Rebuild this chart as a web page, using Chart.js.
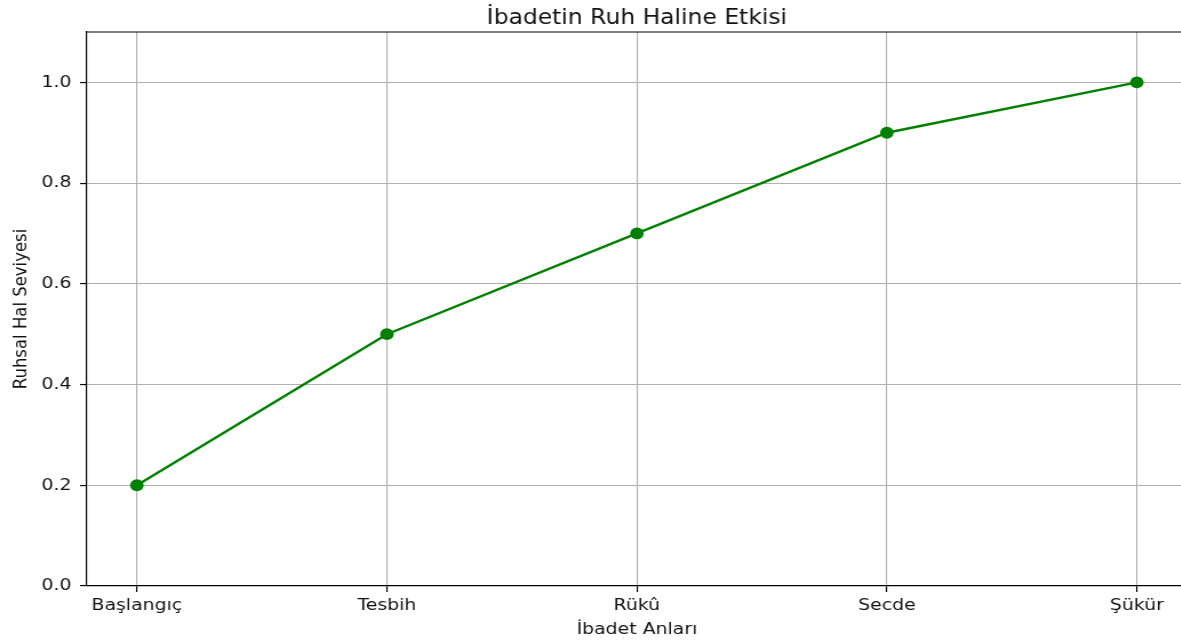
<!DOCTYPE html>
<html>
<head>
<meta charset="utf-8">
<script src="https://cdn.jsdelivr.net/npm/chart.js@4/dist/chart.umd.min.js"></script>
<style>
  html, body { margin: 0; padding: 0; background: #fff; overflow: hidden; }
  #clip { position: relative; width: 1181px; height: 641px; overflow: hidden; }
  /* reference is stretched horizontally, so draw narrower and scale */
  #wrap { width: 1040px; height: 641px; transform: scaleX(1.143); transform-origin: 0 0; }
  #mood-chart { display: block; }
</style>
</head>
<body>
<div id="clip"><div id="wrap"><canvas id="mood-chart" width="1040" height="641"></canvas></div></div>
<script>
'use strict';

// ── Data ──────────────────────────────
const categories = ['Başlangıç', 'Tesbih', 'Rükû', 'Secde', 'Şükür'];
const moodValues = [0.2, 0.5, 0.7, 0.9, 1.0];
const yTicks     = [0.0, 0.2, 0.4, 0.6, 0.8, 1.0];

const FONT = "'DejaVu Sans', sans-serif";
const GREEN = '#008000';
const GRID = '#b0b0b0';
const INK = '#111';

// top + right spine (the right one falls just outside the window)
const frame = {
  id: 'frame',
  afterDraw(chart) {
    const { ctx, chartArea: a } = chart;
    ctx.save();
    ctx.strokeStyle = '#000';
    ctx.lineWidth = 1.2;
    ctx.beginPath();
    ctx.moveTo(a.left, a.top);
    ctx.lineTo(a.right, a.top);
    ctx.lineTo(a.right, a.bottom);
    ctx.stroke();
    ctx.restore();
  },
};

const ctx = document.getElementById('mood-chart').getContext('2d');
new Chart(ctx, {
  type: 'line',
  data: {
    datasets: [{
      data: moodValues.map((v, i) => ({ x: i, y: v })),
      borderColor: GREEN,
      backgroundColor: GREEN,
      borderWidth: 2.4,
      pointRadius: 5.9,
      pointHoverRadius: 5.9,
      pointBorderWidth: 0,
      pointBackgroundColor: GREEN,
      tension: 0,
      fill: false,
    }],
  },
  options: {
    responsive: false,
    animation: false,
    events: [],
    layout: { autoPadding: false, padding: { left: 0, right: 1.6, top: 0, bottom: 0 } },
    plugins: {
      legend: { display: false },
      tooltip: { enabled: false },
      title: {
        display: true,
        text: 'İbadetin Ruh Haline Etkisi',
        fullSize: false,
        color: INK,
        font: { family: FONT, size: 20.5, weight: 'normal' },
        padding: { top: 6.5, bottom: 0.9 },
      },
    },
    scales: {
      x: {
        type: 'linear',
        min: -0.2,
        max: 4.2,
        afterBuildTicks: s => { s.ticks = categories.map((_, i) => ({ value: i })); },
        afterFit: s => { s.height = 55; },
        ticks: {
          color: INK,
          font: { family: FONT, size: 16.5 },
          padding: 4,
          maxRotation: 0,
          autoSkip: false,
          callback: v => categories[v],
        },
        grid: { color: GRID, lineWidth: 1.1, tickLength: 6, tickColor: '#000', tickWidth: 1.2 },
        border: { color: '#000', width: 1.2 },
        title: {
          display: true,
          text: 'İbadet Anları',
          color: INK,
          font: { family: FONT, size: 16.5 },
          padding: { top: 0, bottom: 1 },
        },
      },
      y: {
        min: 0,
        max: 1.1,
        afterBuildTicks: s => { s.ticks = yTicks.map(v => ({ value: v })); },
        afterFit: s => { s.width = 76; },
        ticks: {
          color: INK,
          font: { family: FONT, size: 16.5 },
          padding: 7.5,
          callback: v => v.toFixed(1),
        },
        grid: { color: GRID, lineWidth: 1.1, tickLength: 6, tickColor: '#000', tickWidth: 1.2 },
        border: { color: '#000', width: 1.2 },
        title: {
          display: true,
          text: 'Ruhsal Hal Seviyesi',
          color: INK,
          font: { family: FONT, size: 16.5 },
          padding: { top: 9, bottom: 0 },
        },
      },
    },
  },
  plugins: [frame],
});
</script>
</body>
</html>
